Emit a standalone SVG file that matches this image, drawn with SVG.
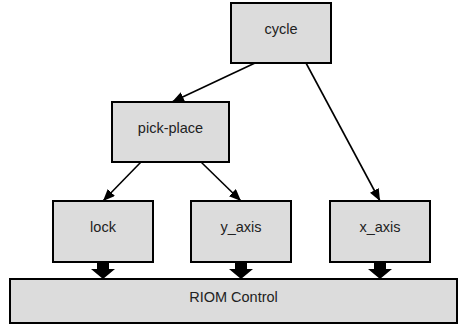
<svg xmlns="http://www.w3.org/2000/svg" width="460" height="327" viewBox="0 0 460 327">
  <defs>
    <style>
      .box { fill: #dcdcdc; stroke: #000; stroke-width: 2; }
      .label { font-family: "Liberation Sans", Arial, sans-serif; font-size: 14.5px; fill: #222; text-anchor: middle; }
      .edge { stroke: #000; stroke-width: 1.6; fill: none; marker-end: url(#arrow); }
      .bus { fill: #000; }
    </style>
    <marker id="arrow" viewBox="0 0 12 10" refX="12" refY="5" markerWidth="12" markerHeight="10" markerUnits="userSpaceOnUse" orient="auto">
      <path d="M0,0 L12,5 L0,10 z" fill="#000"/>
    </marker>
  </defs>
  <rect width="460" height="327" fill="#fff"/>

  <g id="connectors">
    <line class="edge" x1="255" y1="63" x2="172" y2="102"/>
    <line class="edge" x1="306" y1="63" x2="380" y2="201"/>
    <line class="edge" x1="141" y1="162" x2="103" y2="201"/>
    <line class="edge" x1="201" y1="162" x2="241" y2="201"/>
    <!-- thick arrows down into the control bus -->
    <path class="bus" d="M97,262 h12 v7 h6 l-12,10 l-12,-10 h6 z"/>
    <path class="bus" d="M235,262 h12 v7 h6 l-12,10 l-12,-10 h6 z"/>
    <path class="bus" d="M374,262 h12 v7 h6 l-12,10 l-12,-10 h6 z"/>
  </g>

  <g id="cycle">
    <rect class="box" x="231" y="3" width="100" height="60"/>
    <text class="label" x="281" y="34">cycle</text>
  </g>
  <g id="pick-place">
    <rect class="box" x="112" y="102" width="117" height="60"/>
    <text class="label" x="170.5" y="133">pick-place</text>
  </g>
  <g id="lock">
    <rect class="box" x="53" y="201" width="100" height="61"/>
    <text class="label" x="103" y="232">lock</text>
  </g>
  <g id="y_axis">
    <rect class="box" x="191" y="201" width="100" height="61"/>
    <text class="label" x="241" y="232">y_axis</text>
  </g>
  <g id="x_axis">
    <rect class="box" x="330" y="201" width="100" height="61"/>
    <text class="label" x="380" y="232">x_axis</text>
  </g>
  <g id="riom-control">
    <rect class="box" x="10" y="279" width="447" height="44"/>
    <text class="label" x="233.5" y="302">RIOM Control</text>
  </g>
</svg>
